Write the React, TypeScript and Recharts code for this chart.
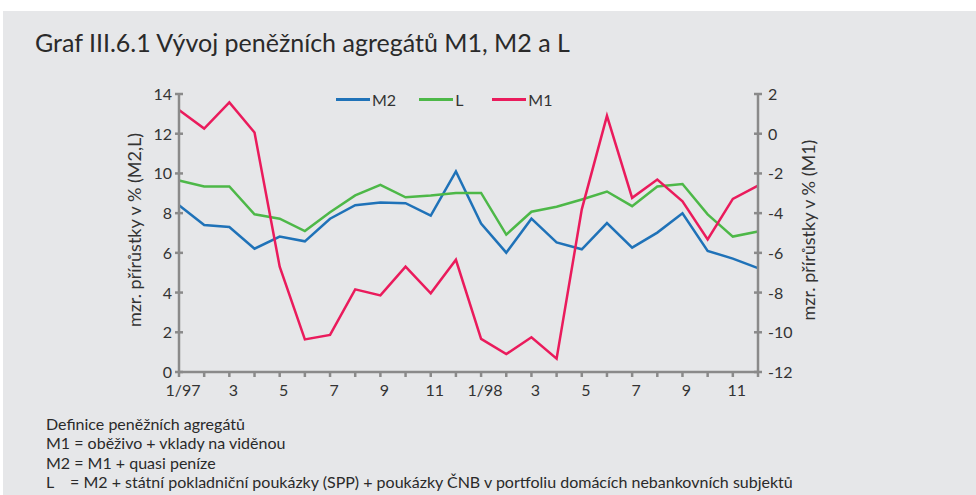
import React from 'react';
import { LineChart, Line, XAxis, YAxis, Legend } from 'recharts';

const months = ['1/97','2','3','4','5','6','7','8','9','10','11','12','1/98','2','3','4','5','6','7','8','9','10','11','12'];
const m2 = [8.40,7.40,7.30,6.21,6.82,6.58,7.72,8.40,8.54,8.50,7.87,10.1,7.48,6.01,7.72,6.53,6.18,7.50,6.26,7.02,7.99,6.10,5.71,5.23];
const lAgg = [9.64,9.34,9.34,7.94,7.72,7.10,8.05,8.89,9.42,8.80,8.89,9.02,9.02,6.92,8.07,8.32,8.69,9.09,8.35,9.34,9.47,7.94,6.82,7.08];
const m1 = [1.20,0.26,1.58,0.06,-6.70,-10.36,-10.13,-7.84,-8.14,-6.69,-8.04,-6.35,-10.33,-11.10,-10.25,-11.33,-3.81,0.90,-3.23,-2.31,-3.40,-5.32,-3.28,-2.61];
const leftTicks = [0,2,4,6,8,10,12,14];
const rightTicks = [-12,-10,-8,-6,-4,-2,0,2];

const title = 'Graf III.6.1 Vývoj peněžních agregátů M1, M2 a L';
const leftLabel = 'mzr. přírůstky v % (M2,L)';
const rightLabel = 'mzr. přírůstky v % (M1)';
const notes = [
  'Definice peněžních agregátů',
  'M1 = oběživo + vklady na viděnou',
  'M2 = M1 + quasi peníze',
  'L    = M2 + státní pokladniční poukázky (SPP) + poukázky ČNB v portfoliu domácích nebankovních subjektů',
];

const series = [
  { key: 'M2', name: 'M2', color: '#1f72b8', axis: 'left' },
  { key: 'L', name: 'L', color: '#4db848', axis: 'left' },
  { key: 'M1', name: 'M1', color: '#ea1b5c', axis: 'right' },
];

const data = months.map((m, i) => ({ month: m, M2: m2[i], L: lAgg[i], M1: m1[i] }));

const FONT = 'Lato, "Open Sans", sans-serif';
const AXIS = '#8a8a8a';
const TEXT = '#333333';

const LeftTick = (props: any) => {
  const { x, y, payload } = props;
  return (
    <g>
      <line x1={x + 3} x2={x + 11} y1={y} y2={y} stroke={AXIS} strokeWidth={2.5} />
      <text x={x} y={y} dy={6} textAnchor="end" fontSize={16} fill={TEXT} fontFamily={FONT}>{payload.value}</text>
    </g>
  );
};

const RightTick = (props: any) => {
  const { x, y, payload } = props;
  return (
    <g>
      <line x1={x - 14} x2={x - 6} y1={y} y2={y} stroke={AXIS} strokeWidth={2.5} />
      <text x={x} y={y} dy={6} textAnchor="start" fontSize={16} fill={TEXT} fontFamily={FONT}>{payload.value}</text>
    </g>
  );
};

const BottomTick = (props: any) => {
  const { x, y, payload, index } = props;
  const label = index % 2 === 0 ? payload.value : '';
  return (
    <text x={x + 4} y={y} dy={14} textAnchor="middle" fontSize={16} fill={TEXT} fontFamily={FONT}>{label}</text>
  );
};

const AxisLabel = (text: string, dx: number) => (props: any) => {
  const vb = props.viewBox;
  const cx = vb.x + dx;
  const cy = vb.y + vb.height / 2 - 3;
  return (
    <text x={cx} y={cy} transform={`rotate(-90 ${cx} ${cy})`} textAnchor="middle" dominantBaseline="central" fontSize={18} fill={TEXT} fontFamily={FONT}>{text}</text>
  );
};

const LegendContent = () => (
  <div style={{ display: 'flex', alignItems: 'center', fontFamily: FONT, fontSize: 16, color: TEXT }}>
    {series.map((s, i) => (
      <div key={s.key} style={{ display: 'flex', alignItems: 'center', marginRight: i === 0 ? 23 : 29 }}>
        <div style={{ width: 34, height: 3, background: s.color, marginRight: 2 }} />
        <span>{s.name}</span>
      </div>
    ))}
  </div>
);

export default function App() {
  return (
    <div style={{ position: 'absolute', left: 0, top: 0, width: 976, height: 495, background: '#ffffff', overflow: 'hidden' }}>
      <div style={{ position: 'absolute', left: 3, top: 11, right: 0, bottom: 0, background: '#e6e7e9' }} />
      <div style={{ position: 'absolute', left: 35, top: 27, fontFamily: FONT, fontSize: 25, color: '#2a2a2a', whiteSpace: 'nowrap' }}>{title}</div>
      <div style={{ position: 'absolute', left: 0, top: 0 }}>
        <LineChart width={976} height={495} data={data} margin={{ top: 94, right: 158, bottom: 93, left: 119 }}>
          <XAxis dataKey="month" interval={0} height={30} tick={<BottomTick />} tickSize={5} tickMargin={5}
            tickLine={{ stroke: AXIS, strokeWidth: 2.5 }} axisLine={{ stroke: AXIS, strokeWidth: 2.5 }} />
          <YAxis yAxisId="left" orientation="left" width={60} domain={[0, 14]} ticks={leftTicks} interval={0}
            tickSize={4} tickMargin={3} tickLine={false} tick={<LeftTick />} axisLine={{ stroke: AXIS, strokeWidth: 2.5 }}
            label={{ content: AxisLabel(leftLabel, 15) }} />
          <YAxis yAxisId="right" orientation="right" width={60} domain={[-12, 2]} ticks={rightTicks} interval={0}
            tickSize={4} tickMargin={6} tickLine={false} tick={<RightTick />} axisLine={{ stroke: AXIS, strokeWidth: 2.5 }}
            label={{ content: AxisLabel(rightLabel, 50) }} />
          <Legend verticalAlign="middle" layout="horizontal" content={<LegendContent />}
            wrapperStyle={{ top: 90, left: 336, width: 280, height: 20 }} />
          {series.map((s) => (
            <Line key={s.key} yAxisId={s.axis} type="linear" dataKey={s.key} name={s.name} stroke={s.color}
              strokeWidth={2.5} dot={false} activeDot={false} isAnimationActive={false} />
          ))}
        </LineChart>
      </div>
      <div style={{ position: 'absolute', left: 46, top: 414, fontFamily: FONT, fontSize: 16, color: '#2a2a2a', lineHeight: '19.3px', whiteSpace: 'pre' }}>
        {notes.map((n, i) => (<div key={i}>{n}</div>))}
      </div>
    </div>
  );
}
